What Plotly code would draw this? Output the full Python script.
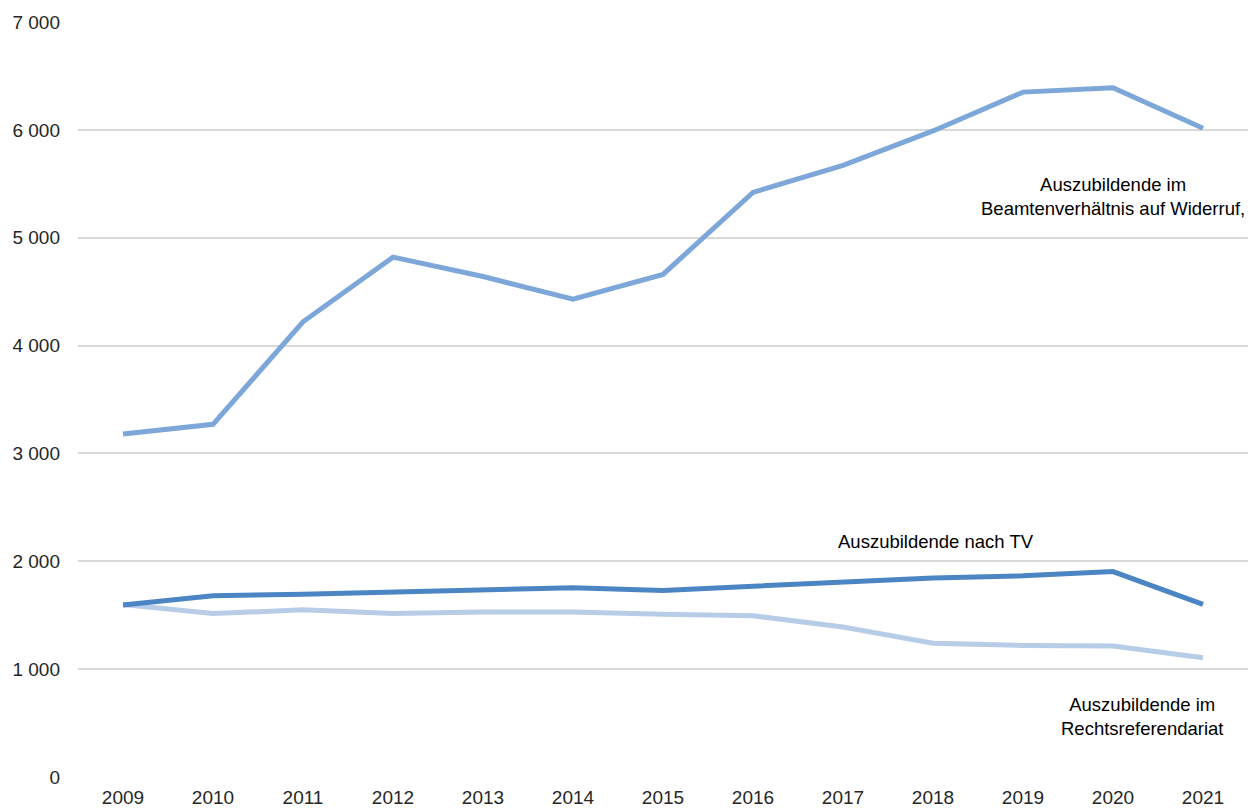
import plotly.graph_objects as go

years = ["2009", "2010", "2011", "2012", "2013", "2014", "2015", "2016", "2017", "2018", "2019", "2020", "2021"]
beamte = [3180, 3270, 4220, 4820, 4640, 4430, 4660, 5420, 5670, 5990, 6350, 6390, 6015]
tv = [1595, 1680, 1695, 1715, 1740, 1755, 1730, 1770, 1810, 1845, 1865, 1905, 1600]
recht = [1600, 1515, 1550, 1515, 1530, 1530, 1510, 1495, 1390, 1240, 1220, 1215, 1105]

y_tickvals = [0, 1000, 2000, 3000, 4000, 5000, 6000, 7000]
y_ticktext = ["0", "1 000", "2 000", "3 000", "4 000", "5 000", "6 000", "7 000"]

label_beamte = "Auszubildende im<br>Beamtenverhältnis auf Widerruf,"
label_tv = "Auszubildende nach TV"
label_recht = "Auszubildende im<br>Rechtsreferendariat"

fig = go.Figure()
fig.add_trace(go.Scatter(x=years, y=recht, mode="lines", line=dict(color="#B7CDE7", width=5), name="Recht"))
fig.add_trace(go.Scatter(x=years, y=tv, mode="lines", line=dict(color="#4C85C3", width=5), name="TV"))
fig.add_trace(go.Scatter(x=years, y=beamte, mode="lines", line=dict(color="#7CA7D8", width=5), name="Beamte"))

font = dict(family="Liberation Sans, Arial, sans-serif", size=18.5, color="#000000")
fig.add_annotation(x=11.0, y=5385, xref="x", yref="y", text=label_beamte, showarrow=False, font=font, align="center")
fig.add_annotation(x=9.03, y=2180, xref="x", yref="y", text=label_tv, showarrow=False, font=font, align="center")
fig.add_annotation(x=11.32, y=558, xref="x", yref="y", text=label_recht, showarrow=False, font=font, align="center")

# page body has an 8px margin: shift figure so the plot area lands where the reference has it
fig.update_layout(
    width=1248, height=800,
    margin=dict(l=70, r=8, t=14, b=31, autoexpand=False),
    paper_bgcolor="white", plot_bgcolor="white",
    showlegend=False,
    font=dict(family="Liberation Sans, Arial, sans-serif", size=19, color="#262626"),
)
fig.update_xaxes(type="category", range=[-0.5, 12.5], showgrid=False, zeroline=False, showline=False,
                 ticks="", tickfont=dict(size=19, color="#262626"), ticklabelstandoff=7)
fig.update_yaxes(range=[0, 7000], tickvals=y_tickvals, ticktext=y_ticktext, showgrid=True,
                 gridcolor="#D9D9D9", gridwidth=2, zeroline=False, showline=False, ticks="",
                 ticklabelstandoff=17, tickfont=dict(size=19, color="#262626"))

fig.write_html("out.html")
